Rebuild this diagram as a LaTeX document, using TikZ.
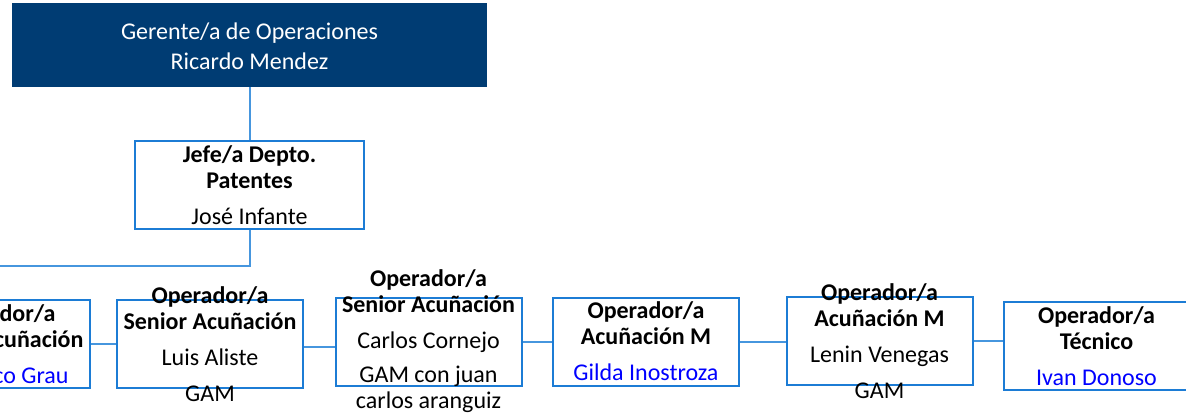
\documentclass[tikz,border=0pt]{standalone}
\usepackage{fontspec}
\setmainfont{Carlito}
\definecolor{boxblue}{RGB}{28,124,213}
\definecolor{linkblue}{RGB}{70,150,222}
\definecolor{topfill}{RGB}{0,60,115}
\definecolor{namecol}{RGB}{0,0,255}
\tikzset{
  orgbox/.style={draw=boxblue, line width=1pt, fill=white, minimum width=93pt, minimum height=44pt, inner sep=0pt},
  topbox/.style={fill=topfill, minimum width=237.5pt, minimum height=42pt, inner sep=0pt},
  txt/.style={align=center, inner sep=0pt, font=\fontsize{12}{13}\selectfont},
  link/.style={draw=linkblue, line width=1pt},
}
\begin{document}
\begin{tikzpicture}[x=0.5pt, y=-0.5pt]
\useasboundingbox (0,0) rectangle (1186,418);
% boxes
\node[topbox] (top) at (249.5,45) {};
\node[orgbox, minimum width=114.5pt] (jefe) at (249.5,184.5) {};
\node[orgbox] (b1) at (-3,344) {};
\node[orgbox] (b2) at (210,344) {};
\node[orgbox] (b3) at (428.5,341.5) {};
\node[orgbox] (b4) at (646,341.5) {};
\node[orgbox] (b5) at (879.5,341) {};
\node[orgbox] (b6) at (1096.5,346) {};
% connectors
\coordinate (lt) at (0,266);
\draw[link] (top.south) -- (jefe.north);
\draw[link] (jefe.south) |- (lt);
\draw[link] (b1.east) -- (b1.east -| b2.west);
\draw[link] ([yshift=-1.5pt]b2.east) -- ([yshift=-1.5pt]b2.east -| b3.west);
\draw[link] (b3.east) -- (b3.east -| b4.west);
\draw[link] (b4.east) -- (b4.east -| b5.west);
\draw[link] (b5.east) -- (b5.east -| b6.west);
% texts
\node[txt, text=white, font=\fontsize{12}{15}\selectfont] (ttop) at (249.5,46) {Gerente/a de Operaciones\\Ricardo Mendez};
\node[txt] (tjefe) at (249.5,185.5) {\textbf{Jefe/a Depto.}\\\textbf{Patentes}\\[5pt]José Infante};
\node[txt] (t1) at (-3,344) {\textbf{Operador/a}\\\textbf{Senior Acuñación}\\[5pt]\textcolor{namecol}{Francisco Grau}};
\node[txt] (t2) at (210,344.5) {\textbf{Operador/a}\\\textbf{Senior Acuñación}\\[5pt]Luis Aliste\\[5pt]GAM};
\node[txt] (t3) at (428.5,341) {\textbf{Operador/a}\\\textbf{Senior Acuñación}\\[5pt]Carlos Cornejo\\[4pt]GAM con juan\\carlos aranguiz};
\node[txt] (t4) at (646,341.5) {\textbf{Operador/a}\\\textbf{Acuñación M}\\[5pt]\textcolor{namecol}{Gilda Inostroza}};
\node[txt] (t5) at (879.5,341) {\textbf{Operador/a}\\\textbf{Acuñación M}\\[5pt]Lenin Venegas\\[5pt]GAM};
\node[txt] (t6) at (1096.5,346) {\textbf{Operador/a}\\\textbf{Técnico}\\[5pt]\textcolor{namecol}{Ivan Donoso}};
\end{tikzpicture}
\end{document}
